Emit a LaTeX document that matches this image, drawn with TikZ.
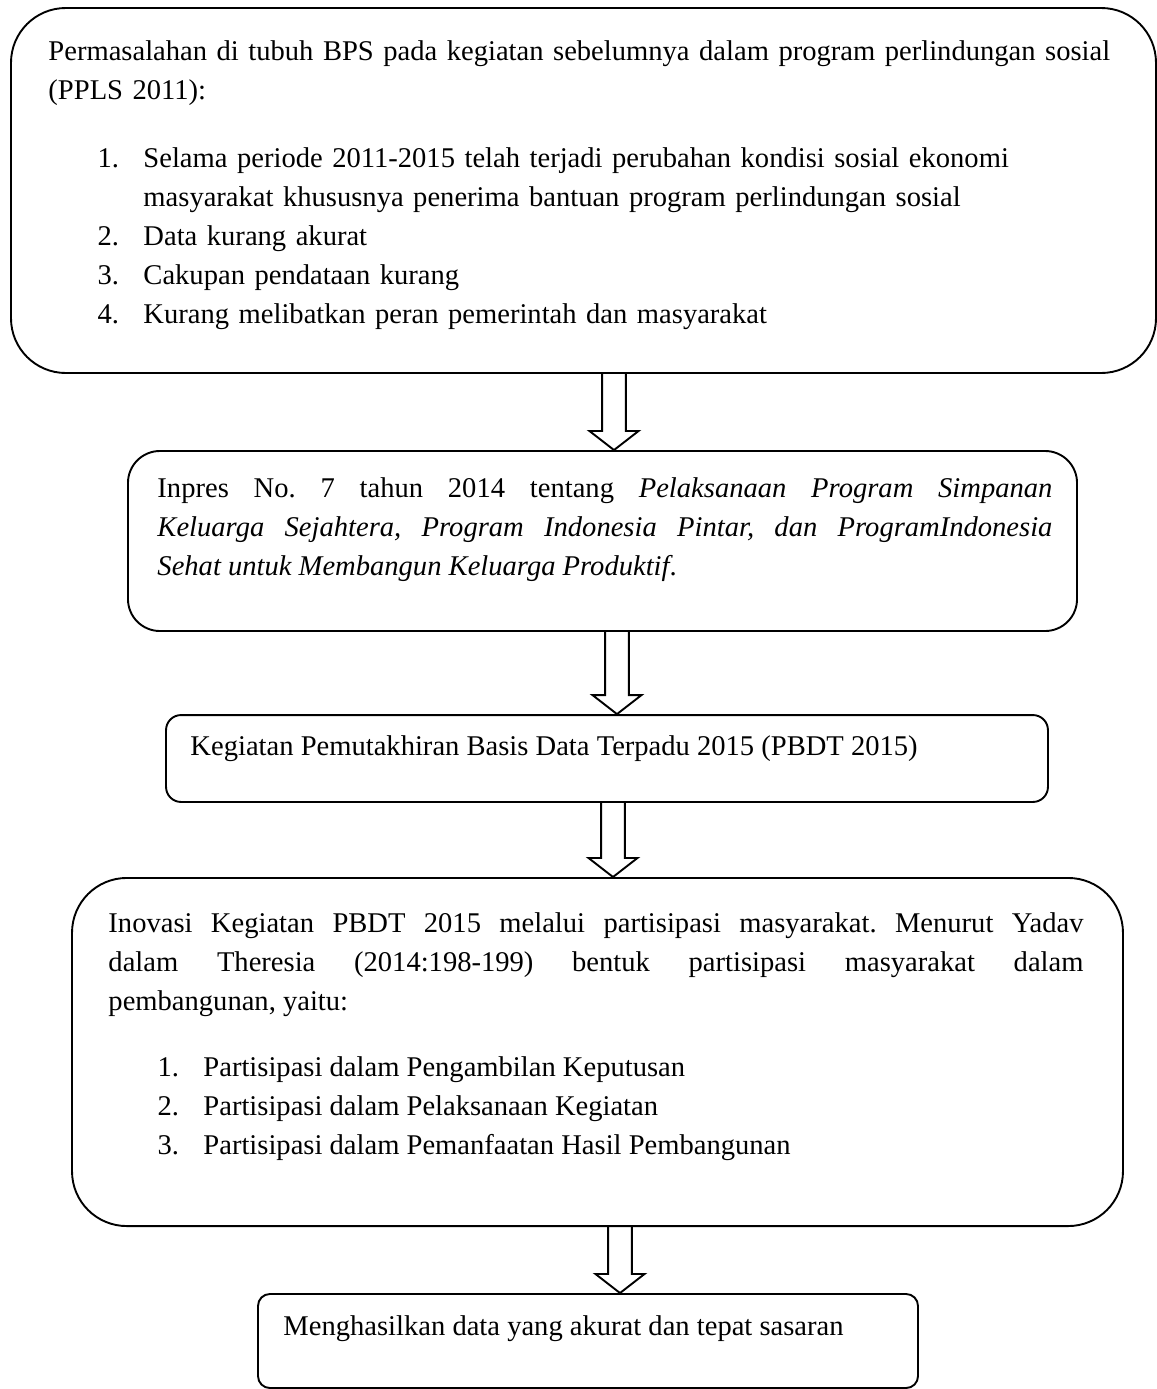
\documentclass[tikz,border=0pt]{standalone}
\usepackage{fontspec}
\setmainfont{Liberation Serif}
\usetikzlibrary{calc}

\newcommand{\butir}[2]{\hspace*{20.6pt}\makebox[19.3pt][l]{#1}#2}
\newcommand{\lanjut}[1]{\hspace*{39.9pt}#1}

\begin{document}
\begin{tikzpicture}[x=0.42pt, y=-0.42pt,
		kotak/.style={draw, line width=0.8pt, inner sep=0pt},
		teks/.style={inner sep=0pt, anchor=base west, font=\fontsize{12pt}{16.4pt}\selectfont\frenchspacing},
		panah/.style={line width=0.8pt, to path={let \p1=(\tikztostart), \p2=(\tikztotarget) in
			(\x1-5pt,\y1) -- (\x1-5pt,\y2+8pt) -- (\x1-10.3pt,\y2+8pt) -- (\x2,\y2)
			-- (\x1+10.3pt,\y2+8pt) -- (\x1+5pt,\y2+8pt) -- (\x1+5pt,\y1)}}]
			\useasboundingbox (0,0) rectangle (1157,1389);
			
			% Boxes
			\node[kotak, rounded corners=23pt, minimum width=480.9pt, minimum height=153.3pt] (1) at (583.5,190.5) {};
			\node[kotak, rounded corners=13.4pt, minimum width=398.6pt, minimum height=75.6pt] (2) at (602.5,541) {};
			\node[kotak, rounded corners=6.3pt, minimum width=370.4pt, minimum height=36.5pt] (3) at (607,758.5) {};
			\node[kotak, rounded corners=23pt, minimum width=441.4pt, minimum height=146.2pt] (4) at (597.5,1052) {};
			\node[kotak, rounded corners=5pt, minimum width=277.2pt, minimum height=39.5pt] (5) at (588,1341) {};
			
			% Texts
			\node[teks, text width=470pt, align=left] (t1) at (48,60) {Permasalahan di tubuh BPS pada kegiatan sebelumnya dalam program perlindungan sosial\\
				(PPLS 2011):\\[12.2pt]
				\butir{1.}{Selama periode 2011-2015 telah terjadi perubahan kondisi sosial ekonomi}\\
				\lanjut{masyarakat khususnya penerima bantuan program perlindungan sosial}\\
				\butir{2.}{Data kurang akurat}\\
				\butir{3.}{Cakupan pendataan kurang}\\
				\butir{4.}{Kurang melibatkan peran pemerintah dan masyarakat}};
			\node[teks, text width=375.9pt, align=justify] (t2) at (157,497) {Inpres No. 7 tahun 2014 tentang \textit{Pelaksanaan Program Simpanan}\linebreak
				\textit{Keluarga Sejahtera, Program Indonesia Pintar, dan ProgramIndonesia}\linebreak
				\textit{Sehat untuk Membangun Keluarga Produktif}.};
			\node[teks] (t3) at (190,755) {Kegiatan Pemutakhiran Basis Data Terpadu 2015 (PBDT 2015)};
			\node[teks, text width=409.5pt, align=justify] (t4) at (108,932) {Inovasi Kegiatan PBDT 2015 melalui partisipasi masyarakat. Menurut Yadav\linebreak
				dalam Theresia (2014:198-199) bentuk partisipasi masyarakat dalam\linebreak
				pembangunan, yaitu:\\[11.3pt]
				\butir{1.}{Partisipasi dalam Pengambilan Keputusan}\\
				\butir{2.}{Partisipasi dalam Pelaksanaan Kegiatan}\\
				\butir{3.}{Partisipasi dalam Pemanfaatan Hasil Pembangunan}};
			\node[teks] (t5) at (283,1335) {Menghasilkan data yang akurat dan tepat sasaran};
			
			% Arrows
			\coordinate (a1) at (614,0);
			\coordinate (a2) at (617,0);
			\coordinate (a3) at (613,0);
			\coordinate (a4) at (620,0);
			\draw[panah] (1.south -| a1) to (2.north -| a1);
			\draw[panah] (2.south -| a2) to (3.north -| a2);
			\draw[panah] (3.south -| a3) to (4.north -| a3);
			\draw[panah] (4.south -| a4) to (5.north -| a4);
		\end{tikzpicture}
\end{document}
